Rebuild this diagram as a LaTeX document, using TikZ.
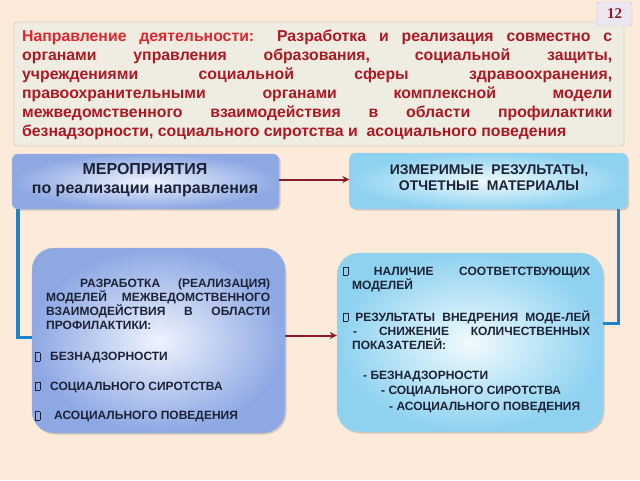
\documentclass[tikz,border=0pt]{standalone}
\usepackage{fontspec}
\setmainfont{Liberation Sans}
\newfontfamily\numfnt{Liberation Serif}
\usetikzlibrary{shadows,arrows.meta}
\definecolor{bg}{HTML}{FCEADB}
\definecolor{hdrfill}{HTML}{EFEDE1}
\definecolor{hdrline}{HTML}{D6D2C6}
\definecolor{redA}{HTML}{DE2630}
\definecolor{redB}{HTML}{AC1824}
\definecolor{darktxt}{HTML}{1C2236}
\definecolor{arrowred}{HTML}{8E1C2C}
\definecolor{lineblue}{HTML}{1E82CC}
\definecolor{blueOut}{HTML}{8EA8E4}
\definecolor{blueIn}{HTML}{EEF3FD}
\definecolor{cyanOut}{HTML}{8ED2F0}
\definecolor{cyanIn}{HTML}{F0FAFE}
\definecolor{numfill}{HTML}{ECE6F0}
\definecolor{numline}{HTML}{C9C2D2}
\definecolor{numtxt}{HTML}{8A1A22}
\newcommand{\bul}{{\setlength\fboxsep{0pt}\setlength\fboxrule{0.7pt}\fbox{\rule{0pt}{7.5pt}\hspace*{3.6pt}}}}
\tikzset{
  shadowed/.style={drop shadow={shadow xshift=1.5pt, shadow yshift=-1.5pt, opacity=0.25, fill=black!60}},
  bluebox/.style={shadowed, shade, shading=radial, inner color=blueIn, outer color=blueOut, draw=blueOut!80!black!60, line width=0.4pt},
  cyanbox/.style={shadowed, shade, shading=radial, inner color=cyanIn, outer color=cyanOut, draw=cyanOut!80!black!50, line width=0.4pt},
  redarrow/.style={draw=arrowred, line width=2pt, -{Stealth[length=7pt,width=7pt]}},
  blueline/.style={draw=lineblue, line width=3.5pt},
  boxtxt/.style={text=darktxt, inner sep=0pt, align=left},
}
\begin{document}
\begin{tikzpicture}[x=1pt,y=-1pt]
\useasboundingbox (0,0) rectangle (640,480);
\fill[bg] (0,0) rectangle (640,480);

% header
\node[draw=hdrline, fill=hdrfill, line width=0.8pt, rounded corners=3pt, minimum width=610pt, minimum height=124pt, inner sep=0pt] (hdr) at (319,84) {};
\node[anchor=north west, inner sep=0pt, align=left, text=redB, font=\fontsize{15.8}{19.1}\selectfont\bfseries] (hdrtxt) at (22,29.5) {%
\makebox[590pt][s]{{\color{redA}Направление деятельности:} Разработка и реализация совместно с}\\
\makebox[590pt][s]{органами управления образования, социальной защиты,}\\
\makebox[590pt][s]{учреждениями социальной сферы здравоохранения,}\\
\makebox[590pt][s]{правоохранительными органами комплексной модели}\\
\makebox[590pt][s]{межведомственного взаимодействия в области профилактики}\\
безнадзорности, социального сиротства и\ \ асоциального поведения};

% page number
\node[draw=numline, fill=numfill, rounded corners=3pt, minimum width=35pt, minimum height=24pt, inner sep=0pt, text=numtxt, font=\numfnt\fontsize{15}{15}\selectfont\bfseries] (pnum) at (614.5,14) {12};

% boxes
\node[bluebox, rounded corners=6pt, minimum width=267pt, minimum height=55pt, inner sep=0pt] (topL) at (145.5,181.5) {};
\node[cyanbox, rounded corners=6pt, minimum width=278pt, minimum height=56pt, inner sep=0pt] (topR) at (488.5,181) {};
\node[bluebox, rounded corners=22pt, minimum width=253pt, minimum height=185pt, inner sep=0pt] (botL) at (158.5,340.5) {};
\node[cyanbox, rounded corners=22pt, minimum width=266pt, minimum height=179pt, inner sep=0pt] (botR) at (470,342.5) {};

% connectors
\draw[redarrow] ([yshift=2pt]topL.east) -- ([yshift=2pt]topL.east -| topR.west);
\draw[redarrow] ([yshift=5pt]botL.east) -- ([yshift=5pt]botL.east -| botR.west);
\draw[blueline] ([xshift=6pt]topL.south west) |- ([yshift=3pt]botL.west);
\draw[blueline] ([xshift=-9pt]topR.south east) |- ([yshift=19pt]botR.east);

% box texts
\node[boxtxt, align=center, font=\fontsize{16}{19}\selectfont\bfseries] (tL) at (145,180) {МЕРОПРИЯТИЯ\\по реализации направления};
\node[boxtxt, align=center, font=\fontsize{14}{16}\selectfont\bfseries] (tR) at (489,178) {ИЗМЕРИМЫЕ\ \ РЕЗУЛЬТАТЫ,\\ОТЧЕТНЫЕ\ \ МАТЕРИАЛЫ};

\node[boxtxt, anchor=north west, font=\fontsize{12}{14}\selectfont\bfseries] (bL) at (46,278.5) {%
\hspace*{34pt}\makebox[190pt][s]{РАЗРАБОТКА (РЕАЛИЗАЦИЯ)}\\
\makebox[224pt][s]{МОДЕЛЕЙ МЕЖВЕДОМСТВЕННОГО}\\
\makebox[224pt][s]{ВЗАИМОДЕЙСТВИЯ В ОБЛАСТИ}\\
ПРОФИЛАКТИКИ:};
\node[boxtxt, anchor=north west, font=\fontsize{12}{29.5}\selectfont\bfseries] (bLb) at (35,352) {%
\bul\hspace{10pt}БЕЗНАДЗОРНОСТИ\\
\bul\hspace{10pt}СОЦИАЛЬНОГО СИРОТСТВА\\
\bul\hspace{14pt}АСОЦИАЛЬНОГО ПОВЕДЕНИЯ};

\node[boxtxt, anchor=north west, font=\fontsize{12}{14}\selectfont\bfseries] (bR) at (343,266.5) {%
\makebox[247pt][s]{\bul\ НАЛИЧИЕ СООТВЕТСТВУЮЩИХ}\\
\hspace*{9pt}МОДЕЛЕЙ\\[18pt]
\makebox[247pt][s]{\bul\ РЕЗУЛЬТАТЫ ВНЕДРЕНИЯ МОДЕ-ЛЕЙ}\\
\hspace*{10pt}\makebox[237pt][s]{- СНИЖЕНИЕ КОЛИЧЕСТВЕННЫХ}\\
\hspace*{9pt}ПОКАЗАТЕЛЕЙ:\\[16pt]
\hspace*{20pt}- БЕЗНАДЗОРНОСТИ\\[1pt]
\hspace*{38pt}- СОЦИАЛЬНОГО СИРОТСТВА\\[2pt]
\hspace*{46pt}- АСОЦИАЛЬНОГО ПОВЕДЕНИЯ};
\end{tikzpicture}
\end{document}
